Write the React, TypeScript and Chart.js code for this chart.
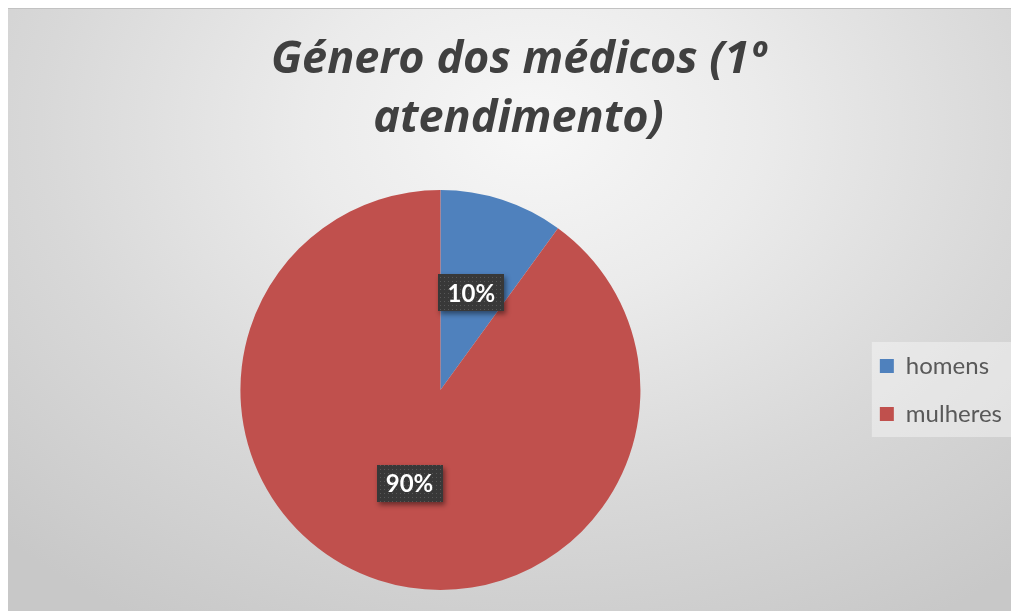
import React, { useEffect, useRef } from 'react';
import { Chart, registerables } from 'chart.js';

Chart.register(...registerables);

const categories = ['homens', 'mulheres'];
const values = [10, 90];
const sliceColors = ['#4f81bd', '#c0504d'];
const titleLines = ['Género dos médicos (1º', 'atendimento)'];

const FONT = 'Lato, "Open Sans", sans-serif';
const TITLE_FONT = '"Open Sans", Lato, sans-serif';

function makePattern(ctx: CanvasRenderingContext2D) {
  const c = document.createElement('canvas');
  c.width = 4;
  c.height = 4;
  const g = c.getContext('2d')!;
  g.fillStyle = '#383838';
  g.fillRect(0, 0, 4, 4);
  g.fillStyle = '#575757';
  g.fillRect(1, 1, 1, 1);
  return ctx.createPattern(c, 'repeat');
}

const legendBgPlugin = {
  id: 'legendBg',
  beforeDraw(chart: any) {
    const lg = chart.legend;
    if (!lg || !lg.legendHitBoxes || lg.legendHitBoxes.length < 2) return;
    const hb0 = lg.legendHitBoxes[0];
    const hb1 = lg.legendHitBoxes[1];
    const ctx = chart.ctx;
    const x = hb0.left - 8;
    const y = hb0.top - 12;
    const w = 142;
    const h = hb1.top + 35 - y;
    ctx.save();
    ctx.fillStyle = 'rgba(255,255,255,0.38)';
    ctx.fillRect(x, y, w, h);
    ctx.restore();
  },
};

const pctLabelPlugin = {
  id: 'pctLabels',
  afterDatasetsDraw(chart: any) {
    const ctx: CanvasRenderingContext2D = chart.ctx;
    const meta = chart.getDatasetMeta(0);
    const total = values.reduce((a, b) => a + b, 0);
    const pattern = makePattern(ctx);
    meta.data.forEach((arc: any, i: number) => {
      const p = arc.tooltipPosition();
      const cx = p.x;
      const cy = p.y - 2;
      const w = 66;
      const h = 37;
      const x = Math.round(cx - w / 2);
      const y = Math.round(cy - h / 2);
      ctx.save();
      ctx.shadowColor = 'rgba(0,0,0,0.45)';
      ctx.shadowBlur = 5;
      ctx.shadowOffsetX = 2;
      ctx.shadowOffsetY = 3;
      ctx.fillStyle = '#383838';
      ctx.fillRect(x, y, w, h);
      ctx.restore();
      ctx.save();
      if (pattern) {
        ctx.fillStyle = pattern;
        ctx.fillRect(x, y, w, h);
      }
      ctx.fillStyle = '#ffffff';
      ctx.font = 'bold 24px ' + FONT;
      ctx.textAlign = 'center';
      ctx.textBaseline = 'middle';
      ctx.fillText(Math.round((values[i] / total) * 100) + '%', cx, cy + 1);
      ctx.restore();
    });
  },
};

export default function App() {
  const ref = useRef<HTMLCanvasElement>(null);

  useEffect(() => {
    if (!ref.current) return;
    const chart = new Chart(ref.current, {
      type: 'pie',
      data: {
        labels: categories,
        datasets: [
          {
            data: values,
            backgroundColor: sliceColors,
            borderWidth: 0,
          },
        ],
      },
      options: {
        responsive: false,
        animation: false,
        layout: { padding: { left: 18, right: 7, bottom: 21, top: 0 } },
        plugins: {
          title: {
            display: true,
            text: titleLines,
            color: '#404040',
            font: { family: TITLE_FONT, size: 45, weight: 'bold', style: 'italic', lineHeight: 1.311 },
            padding: { top: 23, bottom: 41 },
          },
          legend: {
            display: true,
            position: 'right',
            fullSize: false,
            labels: {
              boxWidth: 14,
              boxHeight: 14,
              padding: 24,
              color: '#595959',
              font: { family: FONT, size: 24 },
            },
          },
          tooltip: { enabled: false },
        },
      },
      plugins: [legendBgPlugin, pctLabelPlugin],
    });
    return () => chart.destroy();
  }, []);

  return (
    <div
      style={{
        position: 'relative',
        marginLeft: -1,
        width: 1012,
        height: 603,
        background:
          'radial-gradient(ellipse 75% 95% at 52% 20%, #f7f7f7 0%, #ebebeb 30%, #d8d8d8 65%, #c8c8c8 100%)',
        boxShadow: 'inset 0 1px 0 0 #c2c2c2, inset 1px 0 0 0 #c2c2c2',
      }}
    >
      <canvas ref={ref} width={1012} height={603} style={{ position: 'absolute', left: 0, top: 0 }} />
    </div>
  );
}
